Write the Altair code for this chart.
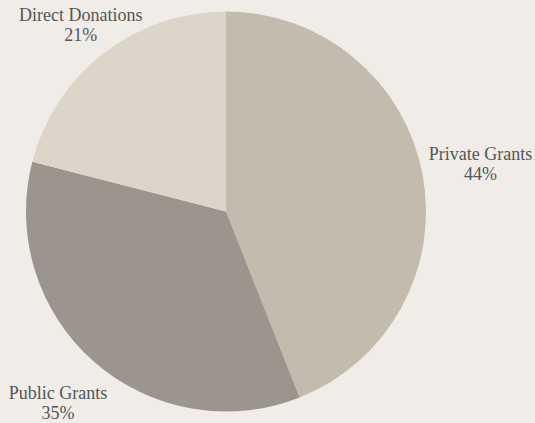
import altair as alt
import pandas as pd
import jinja2

categories = ["Private Grants", "Public Grants", "Direct Donations"]
shares = [44, 35, 21]
colors = ["#c4bbaf", "#9c958e", "#ddd5ca"]
order = [0, 1, 2]

df = pd.DataFrame({
    "category": categories,
    "share": shares,
    "order": order,
})
df["label"] = df["category"] + "\n" + df["share"].astype(str) + "%"

BG = "#f0ede8"

pie = alt.Chart(df).mark_arc(outerRadius=200, stroke=None).encode(
    theta=alt.Theta("share:Q", stack=True),
    order=alt.Order("order:Q"),
    color=alt.Color("category:N",
                    scale=alt.Scale(domain=categories, range=colors),
                    legend=None),
)

# labels at the middle angle of each slice, outside the pie
labels = alt.Chart(df).transform_window(
    cum="sum(share)", sort=[alt.SortField("order")], frame=[None, 0]
).transform_joinaggregate(
    total="sum(share)"
).transform_calculate(
    ang="2 * PI * (datum.cum - datum.share / 2) / datum.total",
    lr="datum.category == 'Private Grants' ? 259 : (datum.category == 'Public Grants' ? 254 : 237)",
).mark_text(
    font="Liberation Serif", fontSize=18, lineBreak="\n",
    lineHeight=20, align="center", baseline="middle", dy=-8, color="#555555"
).encode(
    theta=alt.Theta("ang:Q", scale=None),
    radius=alt.Radius("lr:Q", scale=None),
    text="label:N",
)

chart = (pie + labels).properties(
    width=452, height=423,
    autosize=alt.AutoSizeParams(type="none"),
    padding={"left": 0, "top": 0, "right": 83, "bottom": 0},
    background=BG,
).configure_view(stroke=None)

TEMPLATE = jinja2.Template("""<!DOCTYPE html>
<html>
<head>
<meta charset="utf-8">
<style>
html, body { margin: 0; padding: 0; background: #f0ede8; overflow: hidden; }
</style>
<script type="text/javascript" src="{{ base_url }}/vega@{{ vega_version }}"></script>
<script type="text/javascript" src="{{ base_url }}/vega-lite@{{ vegalite_version }}"></script>
<script type="text/javascript" src="{{ base_url }}/vega-embed@{{ vegaembed_version }}"></script>
</head>
<body>
<div id="{{ output_div }}"></div>
<script type="text/javascript">
  var spec = {{ spec }};
  var opt = {{ embed_options }};
  vegaEmbed("#{{ output_div }}", spec, opt).catch(console.error);
</script>
</body>
</html>
""")

chart.save("out.html", embed_options={"renderer": "svg", "actions": False}, template=TEMPLATE)
